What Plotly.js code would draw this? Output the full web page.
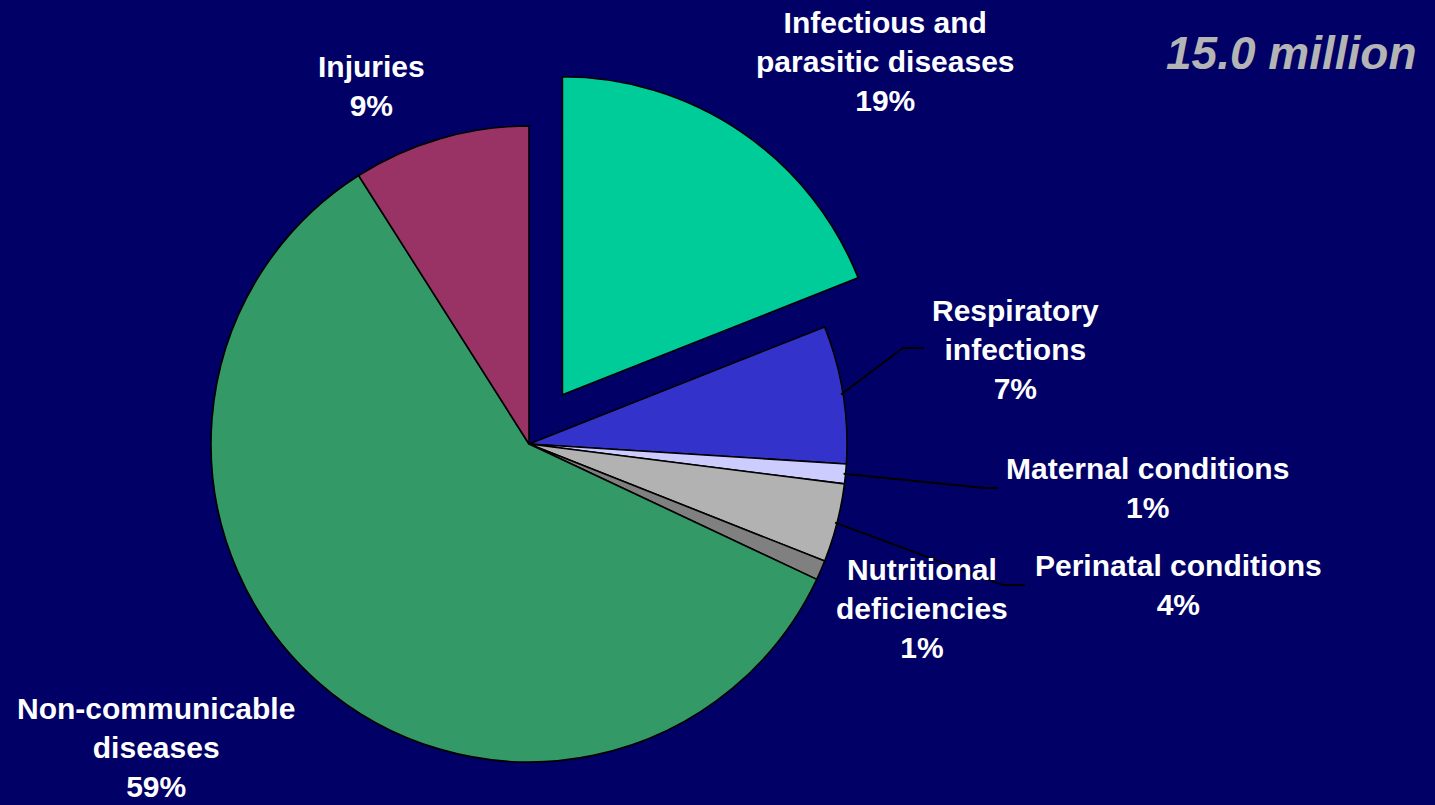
<!DOCTYPE html>
<html><head><meta charset="utf-8">
<script src="https://cdn.plot.ly/plotly-3.0.1.min.js"></script>
<style>
html,body{margin:0;padding:0;background:#000066;overflow:hidden;width:1435px;height:805px;}
#wrap{width:1435px;height:805px;overflow:hidden;position:relative;}
#chart{width:1435px;height:900px;}
</style></head><body>
<div id="wrap"><div id="chart"></div></div>
<script>
// ---- data ----
const categories = ["Infectious and parasitic diseases","Respiratory infections","Maternal conditions","Perinatal conditions","Nutritional deficiencies","Non-communicable diseases","Injuries"];
const labelLines = ["Infectious and<br>parasitic diseases","Respiratory<br>infections","Maternal conditions","Perinatal conditions","Nutritional<br>deficiencies","Non-communicable<br>diseases","Injuries"];
const shares = [19, 7, 1, 4, 1, 59, 9];
const sliceColors = ["#00CC99","#3333CC","#CCCCFF","#B2B2B2","#808080","#339966","#993366"];
const pulls = [0.187, 0, 0, 0, 0, 0, 0];
const totalLabel = "15.0 million";

// ---- layout geometry (pixels) ----
const W = 1435, H = 900;
const CX = 529, CY = 444, R = 318;
const maxPull = Math.max(...pulls);
const half = R * (1 + maxPull);
const labelPos = [[885,61],[1015,349],[1147,488],[1178,585],[922,608],[156,747],[371,86]];
const leaders = [
  {i:1, elbow:[903,348], end:[924,348]},
  {i:2, elbow:[985,488], end:[998,488]},
  {i:3, elbow:[1003,585], end:[1025,585]}
];
const px = x => x / W;
const py = y => 1 - y / H;
const FONT = "Liberation Sans, Arial, Helvetica, sans-serif";

const total = shares.reduce((a,b)=>a+b,0);
const cum = [];
shares.reduce((acc,v,i)=>{cum[i]=acc; return acc+v;},0);

const annotations = shares.map((v,i)=>({
  xref:'paper', yref:'paper', x:px(labelPos[i][0]), y:py(labelPos[i][1]),
  xanchor:'center', yanchor:'middle', showarrow:false, align:'center',
  text:'<b>' + labelLines[i] + '<br>' + v + '%</b>',
  font:{family:FONT, size:30, color:'#FFFFFF'}
}));
annotations.push({
  xref:'paper', yref:'paper', x:px(1419), y:py(53), xanchor:'right', yanchor:'middle',
  showarrow:false, text:'<b><i>' + totalLabel + '</i></b>',
  font:{family:FONT, size:46, color:'#B4B4B4'}
});

const shapes = leaders.map(l=>{
  const th = 2*Math.PI*(cum[l.i] + shares[l.i]/2)/total;
  const r0 = R - 2;
  const sx = CX + r0*Math.sin(th), sy = CY - r0*Math.cos(th);
  return {
    type:'path', xref:'paper', yref:'paper',
    path:`M ${px(sx)} ${py(sy)} L ${px(l.elbow[0])} ${py(l.elbow[1])} L ${px(l.end[0])} ${py(l.end[1])}`,
    line:{color:'#000000', width:1.8}
  };
});

const trace = {
  type:'pie', labels:categories, values:shares, sort:false, direction:'clockwise', rotation:0,
  pull:pulls, textinfo:'none', hoverinfo:'none',
  marker:{colors:sliceColors, line:{color:'#000000', width:1.6}},
  domain:{x:[(CX-half)/W,(CX+half)/W], y:[1-(CY+half)/H, 1-(CY-half)/H]},
  showlegend:false
};

const layout = {
  width:W, height:H, margin:{l:0,r:0,t:0,b:0},
  paper_bgcolor:'#000066', plot_bgcolor:'#000066',
  showlegend:false, annotations, shapes,
  font:{family:FONT}
};
Plotly.newPlot('chart',[trace],layout,{displayModeBar:false, staticPlot:true});
</script>
</body></html>
